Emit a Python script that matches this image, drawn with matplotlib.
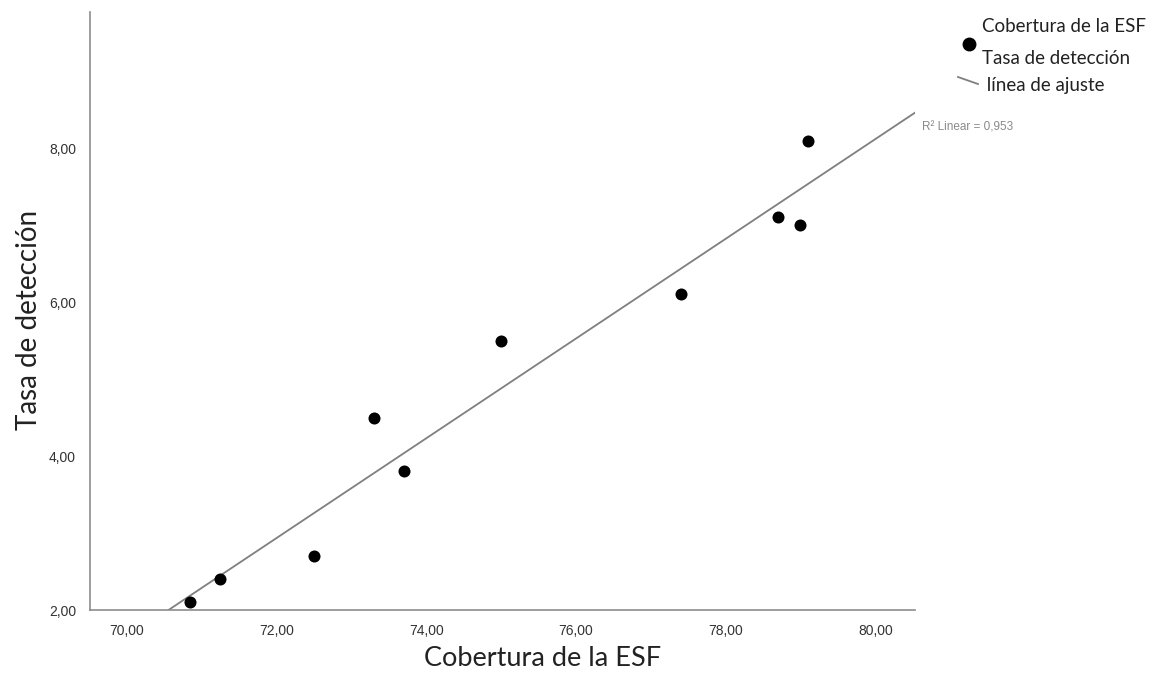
import numpy as np
import matplotlib.pyplot as plt
from matplotlib.ticker import FuncFormatter
from matplotlib.lines import Line2D

# datos
cobertura = [70.85, 71.25, 72.5, 73.3, 73.7, 75.0, 77.4, 78.7, 79.0, 79.1]
deteccion = [2.1, 2.4, 2.7, 4.5, 3.8, 5.5, 6.1, 7.1, 7.0, 8.1]
x_ticks = [70, 72, 74, 76, 78, 80]
y_ticks = [2, 4, 6, 8]
r2_texto = "R² Linear = 0,953"
leyenda = ["Cobertura de la ESF", "Tasa de detección", " línea de ajuste"]

fig = plt.figure(figsize=(11.62, 6.75), dpi=100)
ax = fig.add_axes([90 / 1162, 1 - 610 / 675, 825 / 1162, 598 / 675])

xlim = (69.51, 80.53)
ylim = (2.0, 9.77)

# linea de ajuste
m, b = np.polyfit(cobertura, deteccion, 1)
xs = np.array(xlim)
ax.plot(xs, m * xs + b, color="#7f7f7f", lw=1.3, zorder=2)

ax.scatter(cobertura, deteccion, s=75, color="black", zorder=3, linewidths=0)

ax.set_xlim(*xlim)
ax.set_ylim(*ylim)
ax.set_xticks(x_ticks)
ax.set_yticks(y_ticks)
fmt = FuncFormatter(lambda v, p: f"{v:.2f}".replace(".", ","))
ax.xaxis.set_major_formatter(fmt)
ax.yaxis.set_major_formatter(fmt)
ax.tick_params(length=0, labelsize=10, labelcolor="#333333", pad=10)
for lab in ax.get_xticklabels() + ax.get_yticklabels():
    lab.set_family("Liberation Sans")

for s in ["top", "right"]:
    ax.spines[s].set_visible(False)
for s in ["left", "bottom"]:
    ax.spines[s].set_color("#8c8c8c")
    ax.spines[s].set_linewidth(1.2)

ax.set_xlabel("Cobertura de la ESF", fontsize=19.5, family="Lato", color="#222222")
ax.xaxis.set_label_coords(0.549, -0.06)
ax.set_ylabel("Tasa de detección", fontsize=20, family="Lato", color="#222222")
ax.yaxis.set_label_coords(-0.058, 0.485)

ax.text(922 / 1162, 1 - 127 / 675, r2_texto, transform=fig.transFigure,
        fontsize=8.5, color="#8a8a8a", family="Liberation Sans", va="center", ha="left")

# leyenda a la derecha
fig.add_artist(Line2D([969 / 1162], [1 - 44 / 675], marker="o", markersize=9,
                      color="black", linestyle="none", transform=fig.transFigure))
fig.add_artist(Line2D([958 / 1162, 978 / 1162], [1 - 77 / 675, 1 - 84 / 675],
                      color="#7f7f7f", lw=1.3, transform=fig.transFigure))
for i, (txt, yy) in enumerate(zip(leyenda, [27, 58, 85])):
    fig.text(982 / 1162, 1 - yy / 675, txt, fontsize=13.5, family="Lato",
             color="#222222", va="center", ha="left")

fig.savefig("out.png", dpi=100)
